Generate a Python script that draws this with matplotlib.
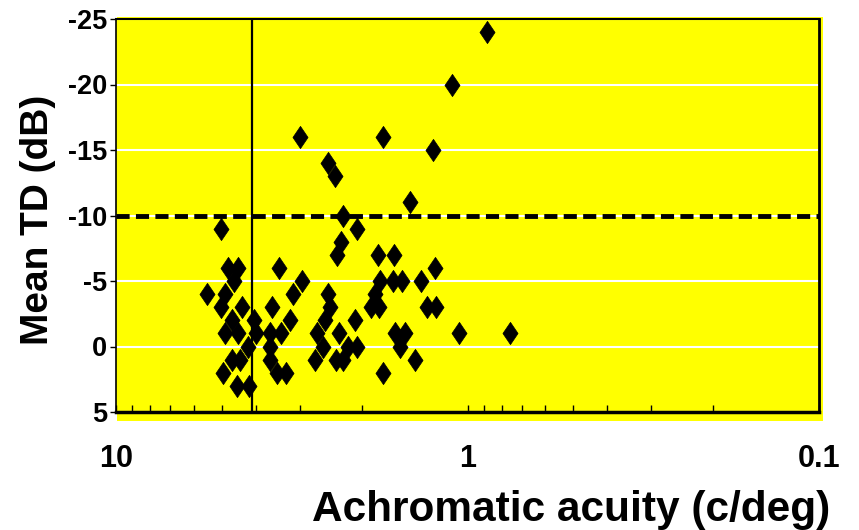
import matplotlib
matplotlib.use('Agg')
import matplotlib.pyplot as plt
from matplotlib.path import Path
from matplotlib.patches import Rectangle
from matplotlib.ticker import LogLocator, NullFormatter, FixedLocator, FixedFormatter

plt.rcParams['font.family'] = ['Liberation Sans', 'DejaVu Sans']
plt.rcParams['axes.unicode_minus'] = False

# Data: achromatic acuity (c/deg) and mean TD (dB)
acuity = [0.88,
          1.11,
          3.00, 1.74,
          1.25,
          2.49,
          2.38,
          1.46,
          2.26,
          5.04, 2.06,
          2.29,
          2.35, 1.80, 1.62,
          4.80, 4.50, 3.44, 1.24,
          4.62, 2.96, 1.77, 1.63, 1.54, 1.36,
          5.51, 4.90, 3.14, 2.49, 1.83,
          5.04, 4.38, 3.60, 2.46, 1.88, 1.79, 1.30, 1.23,
          4.68, 4.05, 3.20, 2.54, 2.09,
          4.90, 4.50, 4.00, 3.65, 3.40, 2.68, 2.32, 1.61, 1.51, 1.06, 0.757,
          4.21, 3.65, 2.58, 2.19, 2.06, 1.56,
          4.68, 4.44, 3.65, 2.72, 2.37, 2.26, 1.41,
          4.96, 3.48, 3.28, 1.74,
          4.53, 4.18]
mean_td = [-24,
           -20,
           -16, -16,
           -15,
           -14,
           -13,
           -11,
           -10,
           -9, -9,
           -8,
           -7, -7, -7,
           -6, -6, -6, -6,
           -5, -5, -5, -5, -5, -5,
           -4, -4, -4, -4, -4,
           -3, -3, -3, -3, -3, -3, -3, -3,
           -2, -2, -2, -2, -2,
           -1, -1, -1, -1, -1, -1, -1, -1, -1, -1, -1,
           0, 0, 0, 0, 0, 0,
           1, 1, 1, 1, 1, 1, 1,
           2, 2, 2, 2,
           3, 3]

vline_x = 4.1
hline_y = -10
x_ticks = [10, 1, 0.1]
x_tick_labels = ['10', '1', '0.1']
y_ticks = [-25, -20, -15, -10, -5, 0, 5]
y_tick_labels = ['-25', '-20', '-15', '-10', '-5', '0', '5']

W, H = 859, 530
fig = plt.figure(figsize=(W / 100, H / 100), dpi=100)
fig.patch.set_facecolor('white')

yellow = '#FFFF00'
# yellow background panel (slightly offset from the frame)
fig.patches.append(Rectangle((117 / W, 1 - 421 / H), (823 - 117) / W, (421 - 17) / H,
                             transform=fig.transFigure, facecolor=yellow,
                             edgecolor='none', zorder=0))

ax = fig.add_axes([116 / W, 1 - 412 / H, (819 - 116) / W, (412 - 19) / H])
ax.set_facecolor(yellow)
ax.set_zorder(1)

ax.set_xscale('log')
ax.set_xlim(10, 0.1)
ax.set_ylim(5, -25)

ax.set_axisbelow(True)
ax.yaxis.grid(True, color='white', linewidth=1.5)
ax.xaxis.grid(False)

diamond = Path([(0, 1), (0.68, 0), (0, -1), (-0.68, 0), (0, 1)],
               [Path.MOVETO, Path.LINETO, Path.LINETO, Path.LINETO, Path.CLOSEPOLY])
ax.plot(acuity, mean_td, linestyle='none', marker=diamond, markersize=16,
        markerfacecolor='black', markeredgecolor='black', markeredgewidth=0.5,
        zorder=4)

ax.axvline(vline_x, color='black', linewidth=1.6, zorder=3)
hl = ax.axhline(hline_y, color='black', linewidth=3.5, zorder=3)
hl.set_dashes([2.7, 1.3])

# ticks
ax.xaxis.set_major_locator(FixedLocator(x_ticks))
ax.xaxis.set_major_formatter(FixedFormatter(x_tick_labels))
ax.xaxis.set_minor_locator(LogLocator(base=10, subs=range(2, 10)))
ax.xaxis.set_minor_formatter(NullFormatter())
ax.tick_params(axis='x', which='both', direction='in', length=5, width=1,
               labelsize=22, pad=23)
ax.yaxis.set_major_locator(FixedLocator(y_ticks))
ax.yaxis.set_major_formatter(FixedFormatter(y_tick_labels))
ax.tick_params(axis='y', which='both', direction='out', length=4.5, width=1,
               labelsize=19.5, pad=2)
for lab in ax.get_xticklabels() + ax.get_yticklabels():
    lab.set_fontweight('bold')

ax.spines['left'].set_linewidth(1.2)
ax.spines['top'].set_linewidth(1.5)
ax.spines['right'].set_linewidth(2.0)
ax.spines['bottom'].set_linewidth(2.5)
for s in ax.spines.values():
    s.set_color('black')
    s.set_zorder(5)

fig.text(38 / W, 1 - 220 / H, 'Mean TD (dB)', rotation=90, ha='center', va='center',
         fontsize=28, fontweight='bold')
fig.text(830 / W, 1 - 510 / H, 'Achromatic acuity (c/deg)', ha='right', va='center',
         fontsize=30.5, fontweight='bold')

fig.savefig('out.png', dpi=100)
